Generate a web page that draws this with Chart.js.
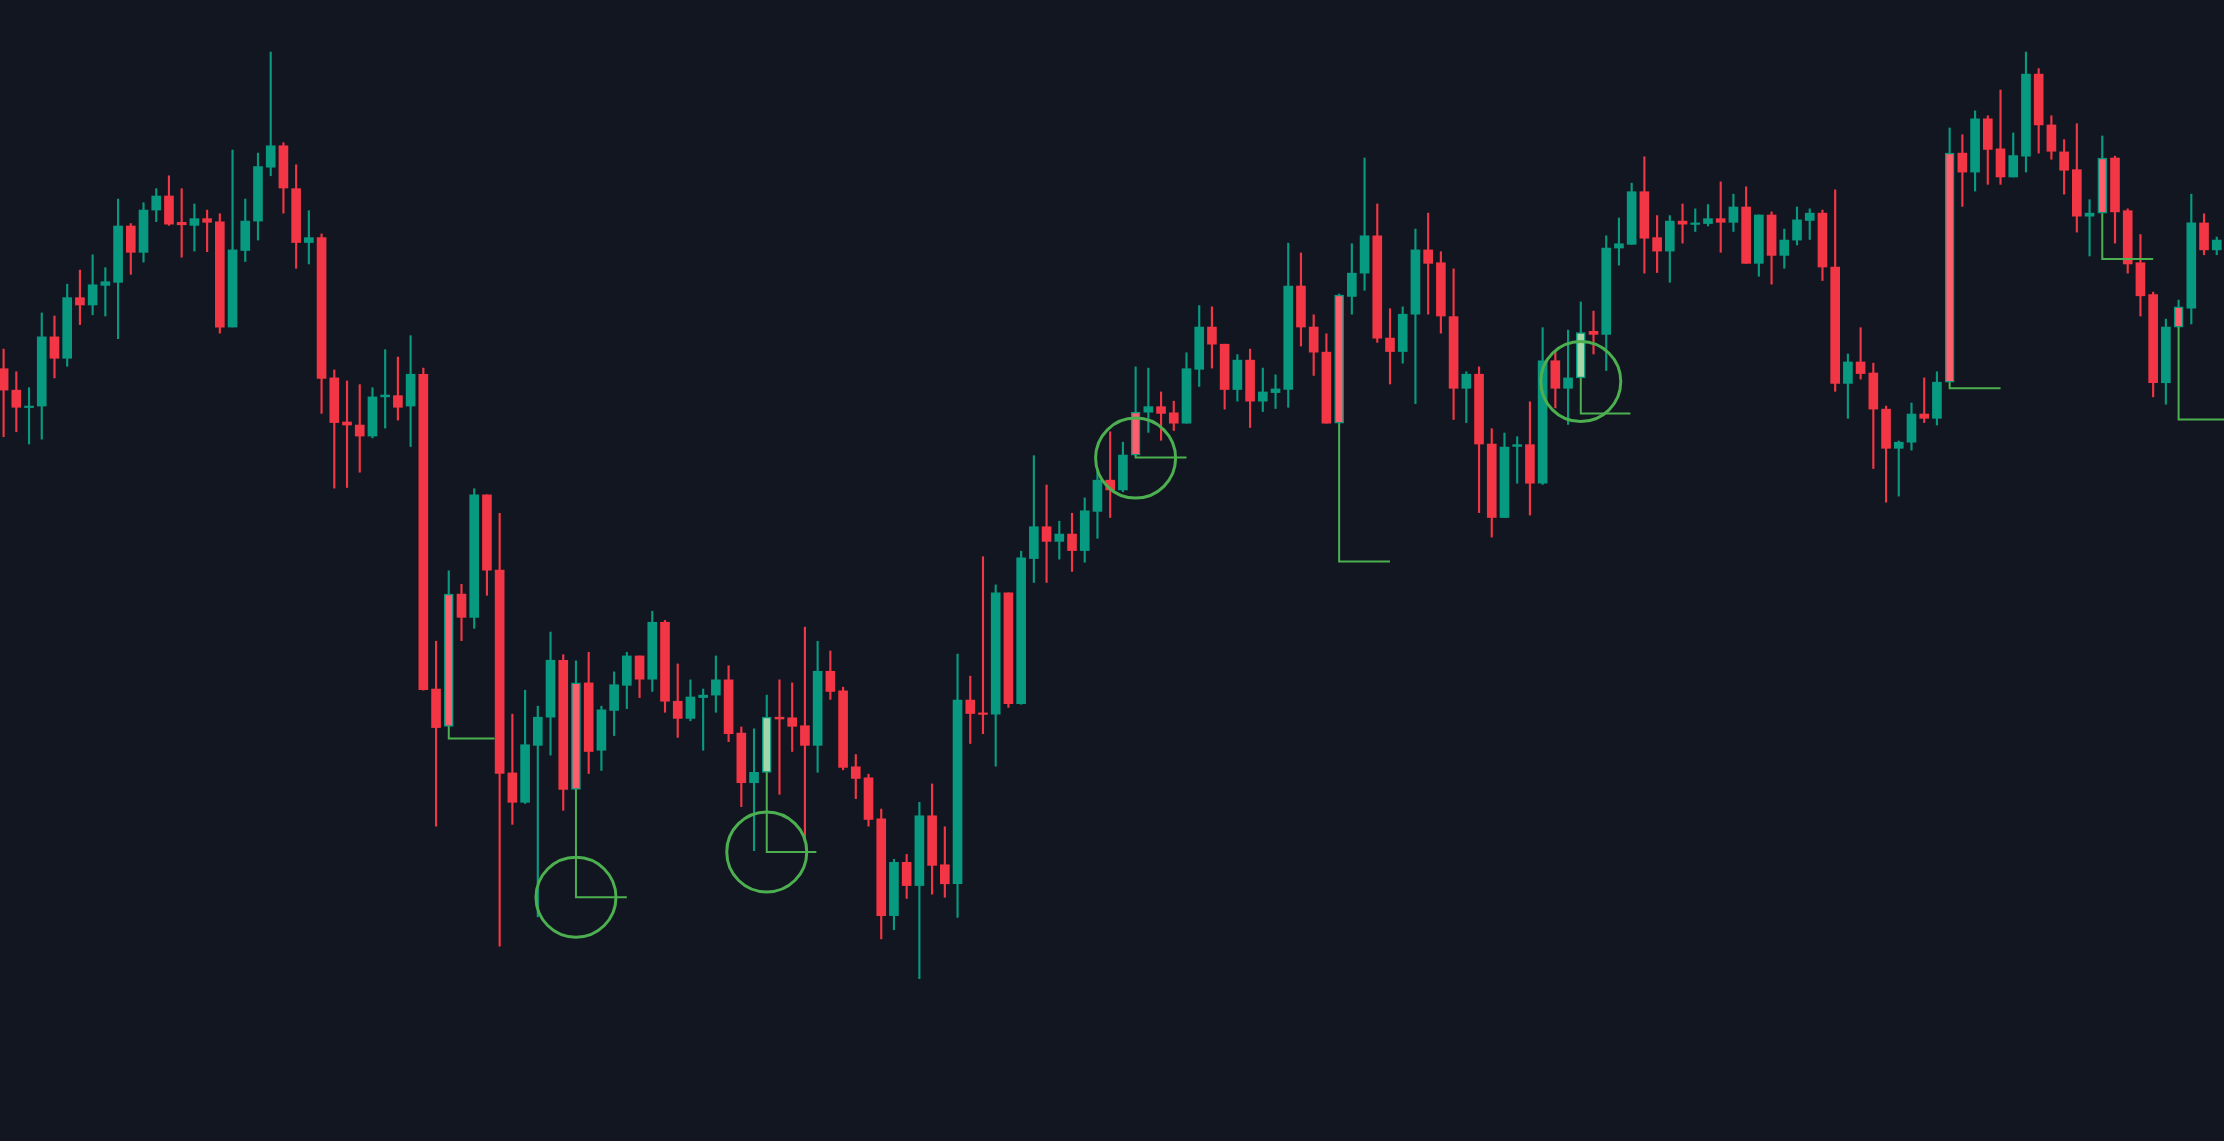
<!DOCTYPE html>
<html>
<head>
<meta charset="utf-8">
<script src="https://cdn.jsdelivr.net/npm/chart.js@4.4.1/dist/chart.umd.min.js"></script>
<style>
  html, body { margin: 0; padding: 0; background: #121620; overflow: hidden; }
  #wrap { width: 2224px; height: 1141px; position: relative; }
</style>
</head>
<body>
<div id="wrap"><canvas id="myChart"></canvas></div>
<script>
// price levels (chart units, larger = lower on screen)
const opens = [537,572,600,598,485,520,421,433,401,396,304,347,278,255,298,303,292,297,469,344,296,208,173,243,331,323,552,624,629,647,583,581,598,546,1060,905,905,943,743,866,1197,1245,1152,1106,1013,1050,1050,1160,1095,1054,1006,1044,951,1080,1108,1074,1070,1045,1132,1213,1196,1106,1107,1120,1152,1031,1063,1187,1205,1272,1430,1343,1381,1267,1347,1378,1078,1099,1101,903,1084,847,795,819,807,834,770,719,735,608,608,599,609,626,538,469,497,571,523,590,576,571,402,469,510,417,419,381,320,487,509,448,343,364,452,569,546,660,780,664,661,724,524,569,552,476,481,340,334,248,323,345,296,300,300,292,298,273,365,286,352,327,295,283,371,561,526,544,603,667,657,611,618,185,185,216,129,178,224,190,56,139,183,212,288,193,193,279,364,416,560,436,438,299,343];
const highs = [505,542,568,446,451,399,376,351,372,260,300,266,243,222,243,268,278,284,180,260,185,20,168,204,279,317,539,557,563,568,506,518,483,536,982,867,889,733,743,773,1101,1062,1088,967,1004,1014,1000,1088,1032,1000,1006,933,948,1019,1045,1060,1006,1022,1122,1125,1070,1045,1050,959,982,998,1057,1167,1199,1256,1338,1330,1245,1215,1285,1003,1039,844,890,903,835,679,727,786,773,748,705,640,657,534,536,575,590,511,434,436,497,514,505,536,547,332,348,449,480,415,333,193,268,439,436,309,283,346,374,542,534,635,642,648,591,470,509,474,428,443,320,291,234,191,287,287,268,276,269,232,252,240,286,281,309,273,276,278,245,513,470,528,598,655,593,552,542,144,155,116,124,82,152,20,47,124,163,137,261,157,190,276,318,412,456,425,252,284,322];
const lows = [648,640,660,652,552,533,465,449,451,488,383,363,297,303,355,345,346,479,469,362,327,222,283,373,366,610,732,731,706,650,634,621,664,1062,1284,1121,981,961,907,1480,1281,1247,1432,1168,1258,1224,1198,1193,1136,1092,1074,1064,1098,1139,1112,1160,1098,1146,1252,1324,1196,1232,1162,1310,1196,1077,1192,1239,1284,1468,1453,1402,1533,1395,1400,1433,1149,1133,1186,1090,1085,886,886,848,868,853,814,780,738,678,641,654,638,626,566,536,603,590,633,607,602,600,500,548,626,626,448,409,494,562,528,594,448,479,620,625,772,812,780,724,776,726,601,628,552,513,540,368,334,381,380,396,332,313,304,347,313,365,386,399,373,335,326,393,574,618,554,700,755,745,670,625,629,559,272,247,236,236,224,216,185,195,252,314,353,283,332,381,451,583,595,469,464,351,351];
const closes = [572,600,598,485,520,421,433,400,395,304,347,278,255,301,302,292,298,469,343,296,207,173,242,331,323,553,625,629,647,583,580,600,546,1061,1123,1121,943,743,866,1198,1245,1151,1106,1013,1224,1224,1162,1094,1053,1006,1044,951,1080,1108,1073,1070,1045,1133,1213,1196,1106,1109,1121,1152,1031,1064,1188,1206,1273,1430,1343,1381,1267,1348,1378,1078,1100,1101,903,1084,846,795,819,807,834,769,719,735,678,678,599,610,626,537,469,497,571,523,590,575,570,402,469,510,626,626,381,320,487,509,448,343,365,451,569,546,660,780,665,661,724,524,569,552,478,481,340,333,248,324,345,296,301,299,292,298,273,365,286,352,327,294,283,371,561,526,545,603,667,657,611,618,559,559,216,129,179,224,189,56,139,182,213,288,283,283,281,366,418,560,469,469,299,343,327];
// highlighted candles: 'P' pink sweep candle, 'L' light green sweep candle
const marks = {35:'P',45:'P',60:'L',89:'P',105:'P',124:'L',153:'P',165:'P',171:'P'};
// sweep level markers: [candle index, body end, level, line end index]
const sweeps = [[35,1121,1141,38.6],[45,1224,1400,49.0],[60,1196,1326,63.9],[89,678,682,93.0],[105,626,852,109.0],[124,552,610,127.9],[153,559,569,157.0],[165,283,358,169.0],[171,469,620,175.5]];
// circled sweeps: [candle index, level]
const circles = [[45,1400],[60,1326],[89,683],[124,558]];

const RED = '#f23645', GREEN = '#089981';
const idx = opens.map((_, i) => i);
const bodyColor = idx.map(i => marks[i] === 'P' ? '#ff5f6d' : marks[i] === 'L' ? '#a5d6a7' : (closes[i] < opens[i] ? GREEN : RED));
const wickColor = idx.map(i => marks[i] ? GREEN : (closes[i] < opens[i] ? GREEN : RED));
const bodyBorder = idx.map(i => marks[i] ? 1.5 : 0);

const datasets = [
  {
    type: 'bar',
    data: idx.map(i => ({ x: i, y: [highs[i], lows[i]] })),
    backgroundColor: wickColor,
    barThickness: 1.5,
    grouped: false,
    order: 3
  },
  {
    type: 'bar',
    data: idx.map(i => ({ x: i, y: [opens[i], closes[i]] })),
    backgroundColor: bodyColor,
    borderColor: GREEN,
    borderWidth: bodyBorder,
    borderSkipped: false,
    barThickness: 9,
    minBarLength: 1.5,
    grouped: false,
    order: 2
  }
];

sweeps.forEach(s => {
  datasets.push({
    type: 'line',
    data: [{ x: s[0], y: s[1] }, { x: s[0], y: s[2] }, { x: s[3], y: s[2] }],
    borderColor: '#4caf50',
    borderWidth: 2,
    pointRadius: 0,
    tension: 0,
    order: 1
  });
});

datasets.push({
  type: 'scatter',
  data: circles.map(c => ({ x: c[0], y: c[1] })),
  pointRadius: 40,
  pointHoverRadius: 40,
  borderColor: '#4caf50',
  backgroundColor: 'rgba(0,0,0,0)',
  borderWidth: 3,
  order: 0
});

const ctx = document.getElementById('myChart').getContext('2d');
new Chart(ctx, {
  type: 'bar',
  data: { datasets: datasets },
  options: {
    responsive: true,
    maintainAspectRatio: false,
    animation: false,
    layout: { padding: 0, autoPadding: false },
    plugins: { legend: { display: false }, tooltip: { enabled: false } },
    scales: {
      x: { type: 'linear', min: -0.283, max: 174.57, display: false, offset: false },
      y: { reverse: true, min: -65, max: 1798, display: false }
    }
  }
});
</script>
</body>
</html>
